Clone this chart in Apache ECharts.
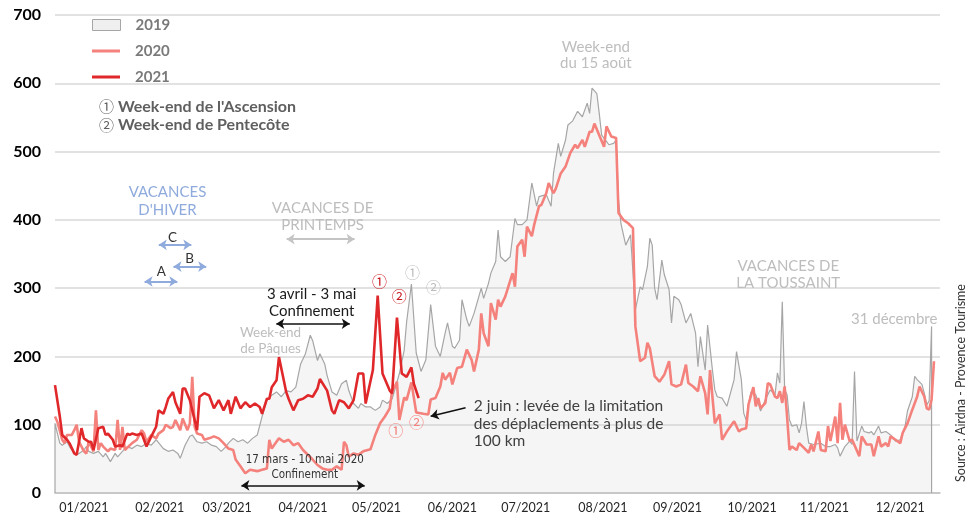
<!DOCTYPE html>
<html><head><meta charset="utf-8">
<script src="https://cdn.jsdelivr.net/npm/echarts@6/dist/echarts.min.js"></script>
<style>html,body{margin:0;padding:0;background:#fff}#c{width:972px;height:520px}</style>
</head><body><div id="c"></div>
<script>
// [day of year, value]
const s2019 = [[0,102],[2,73],[3,70],[5,75],[6,68],[7,63],[9,56],[10,58],[12,63],[13,68],[14,61],[16,58],[18,61],[20,53],[21,58],[23,46],[25,58],[26,53],[28,61],[30,68],[32,65],[34,70],[36,68],[38,73],[40,70],[42,78],[45,65],[47,61],[49,63],[51,58],[52,51],[54,70],[56,83],[57,85],[59,75],[61,73],[63,75],[65,70],[67,68],[69,61],[71,68],[72,73],[74,80],[76,75],[78,78],[80,73],[82,80],[84,85],[86,112],[88,136],[90,143],[92,148],[94,141],[96,150],[98,148],[100,155],[102,189],[104,204],[106,231],[107,223],[109,194],[110,204],[112,189],[113,172],[115,148],[117,143],[119,160],[121,165],[122,150],[124,131],[126,124],[127,131],[129,126],[131,126],[133,121],[135,126],[136,136],[138,131],[140,138],[141,150],[143,175],[145,209],[146,250],[148,306],[150,205],[152,178],[154,195],[156,276],[158,215],[160,200],[162,234],[163,249],[165,215],[166,212],[168,224],[169,283],[171,254],[172,244],[174,263],[177,300],[178,285],[180,307],[181,322],[183,339],[184,385],[185,346],[187,339],[189,346],[191,402],[192,393],[194,393],[196,400],[198,454],[200,420],[201,434],[204,437],[206,420],[207,468],[209,512],[210,493],[212,517],[213,539],[215,545],[217,559],[219,551],[221,571],[222,556],[223,593],[225,585],[226,556],[227,524],[229,515],[230,510],[232,512],[233,517],[234,429],[235,395],[237,363],[239,378],[241,268],[243,302],[244,298],[246,332],[247,373],[248,363],[249,300],[250,283],[252,341],[253,320],[255,298],[256,249],[257,288],[259,283],[260,276],[262,249],[264,263],[266,234],[267,185],[268,229],[270,180],[271,246],[273,180],[274,151],[275,141],[277,139],[279,127],[282,166],[283,207],[285,166],[286,117],[287,107],[288,130],[289,148],[291,144],[293,120],[295,137],[297,151],[299,144],[300,176],[301,161],[302,280],[303,151],[304,144],[305,107],[306,98],[308,100],[309,88],[310,102],[311,134],[312,98],[313,73],[315,71],[318,73],[320,68],[322,68],[324,71],[325,66],[326,54],[328,68],[330,76],[331,71],[332,178],[333,76],[335,98],[336,90],[338,88],[339,90],[340,85],[342,98],[343,88],[345,90],[347,85],[349,76],[351,78],[353,98],[354,120],[356,141],[357,171],[358,166],[360,159],[361,146],[362,129],[363,135],[364,244]];

const s2020 = [[0,112],[1,104],[3,78],[4,73],[5,85],[7,85],[8,92],[9,100],[10,75],[12,61],[13,58],[14,75],[16,61],[17,121],[18,63],[19,73],[20,68],[22,61],[23,65],[25,63],[26,107],[27,63],[28,97],[29,63],[32,73],[34,78],[36,92],[37,87],[38,75],[40,85],[42,80],[43,87],[45,92],[46,100],[48,95],[49,97],[50,107],[52,92],[53,109],[55,92],[56,102],[57,170],[58,97],[59,87],[61,85],[62,78],[64,80],[66,83],[68,80],[70,73],[72,65],[74,63],[75,49],[77,39],[79,29],[81,34],[84,32],[86,34],[88,36],[89,78],[90,65],[93,80],[95,75],[97,78],[99,70],[101,73],[103,63],[105,56],[107,49],[109,41],[111,36],[113,34],[115,34],[117,39],[119,34],[120,75],[121,70],[122,53],[124,58],[126,56],[128,61],[131,64],[133,85],[135,102],[137,112],[139,124],[140,150],[141,155],[142,163],[143,107],[145,140],[146,136],[148,162],[150,118],[153,116],[155,115],[156,137],[158,139],[160,156],[161,176],[162,166],[164,176],[165,159],[167,183],[169,185],[171,210],[173,195],[174,178],[176,210],[177,263],[178,234],[180,215],[181,278],[183,254],[184,283],[185,273],[187,288],[190,322],[191,302],[192,361],[194,371],[195,346],[196,390],[198,376],[199,393],[201,420],[202,422],[204,439],[205,454],[207,439],[208,446],[210,468],[212,478],[214,498],[216,510],[217,505],[219,517],[220,507],[222,529],[223,529],[224,541],[226,524],[228,507],[229,537],[231,522],[233,520],[234,410],[236,400],[238,395],[240,388],[241,244],[243,193],[245,198],[246,220],[247,212],[249,171],[251,163],[253,173],[255,193],[256,159],[258,156],[260,159],[262,188],[263,161],[265,156],[267,149],[268,171],[270,146],[271,115],[272,180],[274,102],[276,115],[277,78],[279,90],[282,105],[284,90],[285,93],[287,95],[288,130],[290,155],[291,127],[292,139],[293,124],[295,132],[296,161],[297,159],[299,141],[300,139],[301,149],[302,132],[303,156],[304,112],[305,63],[306,68],[308,63],[309,73],[311,66],[313,59],[314,71],[315,61],[317,90],[318,63],[320,61],[321,98],[322,76],[324,112],[325,73],[326,132],[327,78],[328,100],[330,76],[331,78],[334,54],[335,83],[337,71],[339,71],[340,54],[342,83],[343,68],[345,73],[346,68],[347,83],[349,78],[351,73],[352,88],[354,102],[356,122],[358,141],[359,156],[361,141],[362,124],[363,122],[364,137],[365,193]];

const s2021 = [[0,158],[2,112],[3,85],[5,78],[6,73],[8,58],[9,56],[11,95],[12,80],[14,75],[15,75],[16,63],[18,95],[20,97],[21,85],[22,87],[24,78],[25,68],[27,70],[28,68],[30,87],[31,85],[32,87],[34,85],[36,87],[38,68],[40,83],[42,97],[43,121],[45,116],[46,126],[47,138],[49,148],[50,133],[52,116],[53,153],[54,153],[56,136],[59,92],[60,141],[62,146],[64,143],[66,124],[68,136],[70,121],[72,136],[73,116],[75,141],[77,124],[79,133],[81,126],[83,131],[85,126],[86,116],[88,138],[89,138],[90,155],[92,165],[93,199],[95,165],[96,148],[97,138],[99,121],[101,136],[103,138],[105,143],[107,141],[109,153],[110,167],[113,150],[115,121],[116,116],[118,136],[120,133],[122,124],[124,136],[126,175],[128,175],[129,131],[132,180],[134,289],[136,175],[139,150],[140,146],[142,257],[144,175],[146,170],[148,184],[149,160],[151,139]];

const monthLabels = ['01/2021','02/2021','03/2021','04/2021','05/2021','06/2021','07/2021','08/2021','09/2021','10/2021','11/2021','12/2021'];
const monthLabelDays = [12, 43.5, 71.5, 103, 133.5, 165, 195.5, 227.5, 258.5, 289.5, 319.5, 351];
const seriesNames = ['2019','2020','2021'];

const FONT = "Lato, 'DejaVu Sans', sans-serif";
const NARROW = "'Liberation Sans Narrow', 'DejaVu Sans Condensed', 'Liberation Sans', sans-serif";
const CIRC = "'Noto Sans CJK JP', 'Noto Sans CJK SC', sans-serif";

const notes = [
  {text:"VACANCES\nD'HIVER", at:[46.7,427.8], color:'#8faadc', size:15, lh:18},
  {text:'C', at:[48.8,373.6], color:'#333', size:13.5},
  {text:'B', at:[55.9,342.9], color:'#333', size:13.5},
  {text:'A', at:[44.1,324.3], color:'#333', size:13.5},
  {text:'VACANCES DE\nPRINTEMPS', at:[111.1,404.4], color:'#bdbdbd', size:15, lh:17},
  {text:'3 avril - 3 mai\nConfinement', at:[106.6,278.5], color:'#1a1a1a', size:15, lh:17},
  {text:'Week-end\nde Pâques', at:[89.5,222.9], color:'#bdbdbd', size:13.5, lh:16.5},
  {text:'17 mars - 10 mai 2020\nConfinement', at:[103.7,37.2], color:'#333', size:11.5, lh:14.5, family:NARROW},
  {text:'①', at:[134.7,310], color:'#c8161d', size:15, family:CIRC},
  {text:'②', at:[142.9,288], color:'#c8161d', size:15, family:CIRC},
  {text:'①', at:[148.5,323.9], color:'#bdbdbd', size:15, family:CIRC},
  {text:'②', at:[157.2,301.9], color:'#bdbdbd', size:15, family:CIRC},
  {text:'①', at:[141.5,91.2], color:'#f4817b', size:15, family:CIRC},
  {text:'②', at:[150.1,102.9], color:'#f4817b', size:15, family:CIRC},
  {text:'2 juin : levée de la limitation\ndes déplaclements à plus de\n100 km', at:[173.9,101.4], align:'left', color:'#404040', size:15.5, lh:17.5},
  {text:'Week-end\ndu 15 août', at:[224.6,641.4], color:'#bdbdbd', size:15, lh:16},
  {text:'VACANCES DE\nLA TOUSSAINT', at:[304.5,320.2], color:'#bdbdbd', size:15, lh:17},
  {text:'31 décembre', at:[366.4,254.4], align:'right', color:'#bdbdbd', size:15}
];

const arrows = [
  {from:[43.1,363.4], to:[56.6,363.4], color:'#8faadc', both:true, w:2},
  {from:[49.2,331.6], to:[62.8,331.6], color:'#8faadc', both:true, w:2},
  {from:[37.2,309.7], to:[50.8,309.7], color:'#8faadc', both:true, w:2},
  {from:[96.2,371.7], to:[124.4,371.7], color:'#c4c4c4', both:true, w:2},
  {from:[91.9,247.8], to:[122.4,247.8], color:'#111', both:true, w:1.6},
  {from:[77.4,11.1], to:[128.6,11.1], color:'#111', both:true, w:1.6},
  {from:[170.5,124.8], to:[156,112.4], color:'#111', both:false, w:1.6}
];

const chart = echarts.init(document.getElementById('c'), null, {renderer:'canvas'});

const legendText = {fontSize: 15, fontWeight: 'bold', color: '#7a7a7a', fontFamily: FONT, lineHeight: 16, padding: [0,0,0,10]};
const option = {
  animation: false,
  backgroundColor: '#fff',
  grid: {left: 55, right: 32, top: 15, bottom: 27, containLabel: false},
  legend: [
    {
      orient: 'vertical', left: 92, top: 17, padding: 0, itemWidth: 28, itemHeight: 11,
      selectedMode: false, textStyle: legendText,
      data: [{name: seriesNames[0], icon: 'rect', itemStyle: {color: '#efefef', borderColor: '#a6a6a6', borderWidth: 1}}]
    },
    {
      orient: 'vertical', left: 92, top: 43, padding: 0, itemWidth: 28, itemHeight: 3, itemGap: 10,
      selectedMode: false, textStyle: legendText,
      data: [
        {name: seriesNames[1], icon: 'rect', itemStyle: {color: '#f4817b'}},
        {name: seriesNames[2], icon: 'rect', itemStyle: {color: '#e0282b'}}
      ]
    }
  ],
  xAxis: {
    type: 'value', min: 0, max: 367.5,
    axisLine: {show: true, lineStyle: {color: '#c0c0c0', width: 1.5}},
    axisTick: {show: false},
    splitLine: {show: false},
    axisLabel: {
      customValues: monthLabelDays,
      formatter: v => { const i = monthLabelDays.indexOf(v); return i >= 0 ? monthLabels[i] : ''; },
      fontSize: 12.5, color: '#262626', fontFamily: FONT, margin: 8
    }
  },
  yAxis: {
    type: 'value', min: 0, max: 700, interval: 100,
    axisLine: {show: false}, axisTick: {show: false},
    splitLine: {lineStyle: {color: '#d9d9d9', width: 1.5}},
    axisLabel: {fontSize: 16, fontWeight: 'bold', color: '#000', fontFamily: FONT, margin: 14}
  },
  series: [
    {
      name: seriesNames[0], type: 'line', symbol: 'none', z: 1,
      data: [[s2019[0][0], 0]].concat(s2019, [[s2019[s2019.length-1][0], 0]]),
      lineStyle: {color: '#a6a6a6', width: 1.2},
      itemStyle: {color: '#a6a6a6'},
      areaStyle: {color: 'rgba(200,200,200,0.27)', origin: 'start'}
    },
    {
      name: seriesNames[1], type: 'line', symbol: 'none', z: 2,
      data: s2020,
      lineStyle: {color: '#f4817b', width: 2.6},
      itemStyle: {color: '#f4817b'}
    },
    {
      name: seriesNames[2], type: 'line', symbol: 'none', z: 3,
      data: s2021,
      lineStyle: {color: '#e0282b', width: 2.6},
      itemStyle: {color: '#e0282b'}
    },
    {
      name: 'annotations', type: 'line', data: [], z: 5, silent: true,
      markLine: {
        silent: true, animation: false,
        symbolSize: 8,
        label: {show: false},
        emphasis: {disabled: true},
        data: arrows.map(a => [
          {coord: a.from, symbol: a.both ? 'arrow' : 'none', lineStyle: {color: a.color, width: a.w, type: 'solid'}},
          {coord: a.to, symbol: 'arrow'}
        ])
      }
    }
  ]
};
chart.setOption(option);

const gfx = notes.map(n => {
  const p = chart.convertToPixel({gridIndex: 0}, n.at);
  return {
    type: 'text', x: p[0], y: p[1], silent: true, z: 100,
    style: {
      text: n.text, fill: n.color, fontSize: n.size, fontFamily: n.family || FONT,
      align: n.align || 'center', verticalAlign: 'middle', lineHeight: n.lh || n.size + 3
    }
  };
});
const legendNoteStyle = (txt, y) => ({
  type: 'text', x: 99, y: y, silent: true,
  style: {
    text: '{c|' + txt[0] + '} ' + txt.slice(1).trim(),
    fill: '#5f5f5f', fontSize: 16, fontWeight: 'bold', fontFamily: FONT, align: 'left', verticalAlign: 'middle',
    rich: {c: {fontSize: 15, fontWeight: 'normal', fontFamily: CIRC, fill: '#5f5f5f'}}
  }
});
gfx.push(legendNoteStyle("① Week-end de l'Ascension", 106.5));
gfx.push(legendNoteStyle('② Week-end de Pentecôte', 125));
gfx.push({type:'text', x: 961, y: 383, rotation: Math.PI/2, silent: true, style: {text: 'Source : Airdna - Provence Tourisme', fill: '#333', fontSize: 12.5, fontFamily: FONT, align: 'center', verticalAlign: 'middle'}});
chart.setOption({graphic: gfx});
</script>
</body></html>
